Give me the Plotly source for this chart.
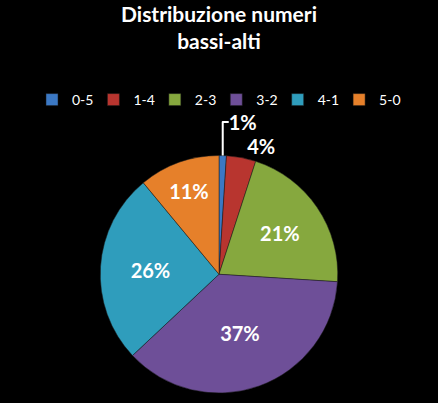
import plotly.graph_objects as go

labels = ["0-5", "1-4", "2-3", "3-2", "4-1", "5-0"]
values = [1, 4, 21, 37, 26, 11]
colors = ["#3b78c4", "#b8352f", "#86a83e", "#6e4f98", "#2f9dbc", "#e6802a"]
text_pos = ["outside", "outside", "inside", "inside", "inside", "inside"]

fig = go.Figure(go.Pie(
    labels=labels,
    values=values,
    sort=False,
    direction="clockwise",
    rotation=0,
    texttemplate="<b>%{percent:.0%}</b>",
    textposition=text_pos,
    insidetextorientation="horizontal",
    textfont=dict(family="Lato", size=20, color="white"),
    outsidetextfont=dict(family="Lato", size=20, color="white"),
    marker=dict(colors=colors, line=dict(color="#1a1a1a", width=0.5)),
    domain=dict(x=[0.05, 0.95], y=[0.0, 0.62]),
))

fig.update_layout(
    width=438, height=403,
    paper_bgcolor="black", plot_bgcolor="black",
    margin=dict(l=0, r=0, t=10, b=10),
    title=dict(text="<b>Distribuzione numeri<br>bassi-alti</b>",
               x=0.5, xanchor="center", y=0.945, yanchor="top",
               font=dict(family="Lato", size=21, color="white")),
    legend=dict(orientation="h", x=0.5, xanchor="center", y=0.765, yanchor="middle",
                font=dict(family="Lato", size=14, color="white"),
                entrywidth=0.166, entrywidthmode="fraction", itemwidth=30,
                bgcolor="rgba(0,0,0,0)", traceorder="normal"),
    showlegend=True,
)

fig.write_html("out.html", config={"displayModeBar": False},
               post_script="document.body.style.margin='0';document.body.style.background='black';")
